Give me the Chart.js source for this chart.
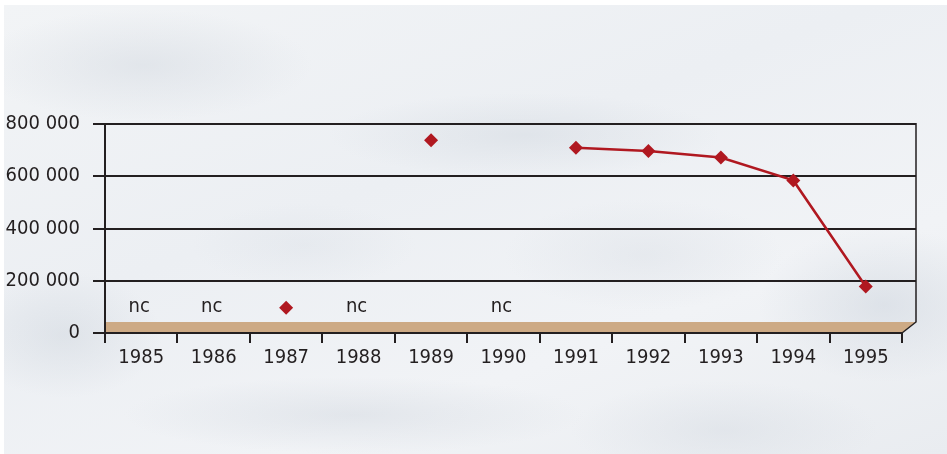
<!DOCTYPE html>
<html>
<head>
<meta charset="utf-8">
<script src="https://cdn.jsdelivr.net/npm/chart.js@4.4.1/dist/chart.umd.min.js"></script>
<style>
  html, body { margin: 0; padding: 0; background: #ffffff; }
  #wrap { position: relative; width: 947px; height: 454px; overflow: hidden; }
  #marble {
    position: absolute; left: 4px; top: 5px; right: 0; bottom: 0;
    background:
      radial-gradient(ellipse 240px 80px at 140px 60px, rgba(208,214,222,0.45), rgba(208,214,222,0) 70%),
      radial-gradient(ellipse 280px 60px at 520px 130px, rgba(205,212,220,0.40), rgba(205,212,220,0) 70%),
      radial-gradient(ellipse 180px 110px at 880px 300px, rgba(200,208,218,0.45), rgba(200,208,218,0) 70%),
      radial-gradient(ellipse 330px 55px at 350px 410px, rgba(208,214,222,0.45), rgba(208,214,222,0) 70%),
      radial-gradient(ellipse 220px 70px at 720px 425px, rgba(210,216,224,0.40), rgba(210,216,224,0) 70%),
      radial-gradient(ellipse 140px 90px at 60px 330px, rgba(205,212,220,0.45), rgba(205,212,220,0) 70%),
      radial-gradient(ellipse 200px 80px at 640px 250px, rgba(208,214,222,0.30), rgba(208,214,222,0) 70%),
      radial-gradient(ellipse 160px 60px at 300px 240px, rgba(210,216,224,0.25), rgba(210,216,224,0) 70%),
      linear-gradient(160deg, #f2f4f6 0%, #eceff3 40%, #f1f3f6 70%, #e9ecf0 100%);
  }
  canvas { position: absolute; left: 0; top: 0; }
</style>
</head>
<body>
<div id="wrap">
  <div id="marble"></div>
  <canvas id="c" width="947" height="454"></canvas>
</div>
<script>
// ---- data ----
const years = ['1985','1986','1987','1988','1989','1990','1991','1992','1993','1994','1995'];
const values = [null, null, 97000, null, 738000, null, 709000, 697000, 672000, 584000, 178000];
const missingLabel = 'nc';
const yMin = 0;
const yMax = 800000;
const yStep = 200000;

const FONT = "'DejaVu Sans Condensed', 'Liberation Sans Narrow', sans-serif";
const INK = '#231f20';
const RED = '#b01820';

function fmt(v) {
  return String(v).replace(/\B(?=(\d{3})+(?!\d))/g, ' ');
}

const decor = {
  id: 'decor',
  beforeDatasetsDraw(chart) {
    const { ctx, chartArea: a, scales: { x, y } } = chart;
    const dx = 14, dy = 11;
    const y0 = Math.round(y.getPixelForValue(0));
    ctx.save();
    // floor
    ctx.fillStyle = '#cdaa85';
    ctx.beginPath();
    ctx.moveTo(a.left, y0 - dy);
    ctx.lineTo(a.right + dx, y0 - dy);
    ctx.lineTo(a.right, y0);
    ctx.lineTo(a.left, y0);
    ctx.closePath();
    ctx.fill();
    ctx.strokeStyle = INK;
    ctx.lineWidth = 2;
    // gridlines on back wall
    y.ticks.forEach(t => {
      if (t.value <= 0) return;
      const py = Math.round(y.getPixelForValue(t.value));
      ctx.beginPath();
      ctx.moveTo(a.left, py);
      ctx.lineTo(a.right + dx, py);
      ctx.stroke();
    });
    // right wall edge
    const top = Math.round(y.getPixelForValue(yMax));
    ctx.lineWidth = 1.5;
    ctx.beginPath();
    ctx.moveTo(a.right + dx, top - 1);
    ctx.lineTo(a.right + dx, y0 - dy);
    ctx.lineTo(a.right, y0);
    ctx.stroke();
    // bottom edge
    ctx.lineWidth = 2;
    ctx.beginPath();
    ctx.moveTo(a.left - 12, y0);
    ctx.lineTo(a.right, y0);
    ctx.stroke();
    // y axis line
    ctx.beginPath();
    ctx.moveTo(a.left, top - 1);
    ctx.lineTo(a.left, y0 + 10);
    ctx.stroke();
    // "nc" labels for missing values
    ctx.fillStyle = INK;
    ctx.font = '20px ' + FONT;
    ctx.textAlign = 'center';
    ctx.textBaseline = 'middle';
    const ny = y0 - dy - 15;
    values.forEach((v, i) => {
      if (v === null) ctx.fillText(missingLabel, x.getPixelForValue(i) - 2, ny);
    });
    ctx.restore();
  }
};

new Chart(document.getElementById('c'), {
  type: 'line',
  data: {
    labels: years,
    datasets: [{
      data: values,
      borderColor: RED,
      backgroundColor: RED,
      borderWidth: 2.5,
      pointStyle: 'rectRot',
      pointRadius: 7,
      pointBorderWidth: 0,
      pointBackgroundColor: RED,
      spanGaps: false,
      tension: 0
    }]
  },
  options: {
    responsive: false,
    animation: false,
    devicePixelRatio: 1,
    layout: { padding: { left: 0, right: 45, top: 124, bottom: 0 } },
    plugins: { legend: { display: false }, tooltip: { enabled: false } },
    scales: {
      x: {
        type: 'category',
        offset: true,
        grid: { display: true, drawOnChartArea: false, offset: true, tickLength: 10, color: INK, lineWidth: 2 },
        border: { display: false },
        ticks: { color: INK, font: { family: FONT, size: 20 }, padding: 3, maxRotation: 0 },
        afterFit(s) { s.height = 121; }
      },
      y: {
        min: yMin,
        max: yMax,
        grid: { display: true, drawOnChartArea: false, tickLength: 12, color: INK, lineWidth: 2 },
        border: { display: false },
        ticks: { stepSize: yStep, color: INK, font: { family: FONT, size: 20 }, padding: 13, callback: v => fmt(v) },
        afterFit(s) { s.width = 105; }
      }
    }
  },
  plugins: [decor]
});
</script>
</body>
</html>
